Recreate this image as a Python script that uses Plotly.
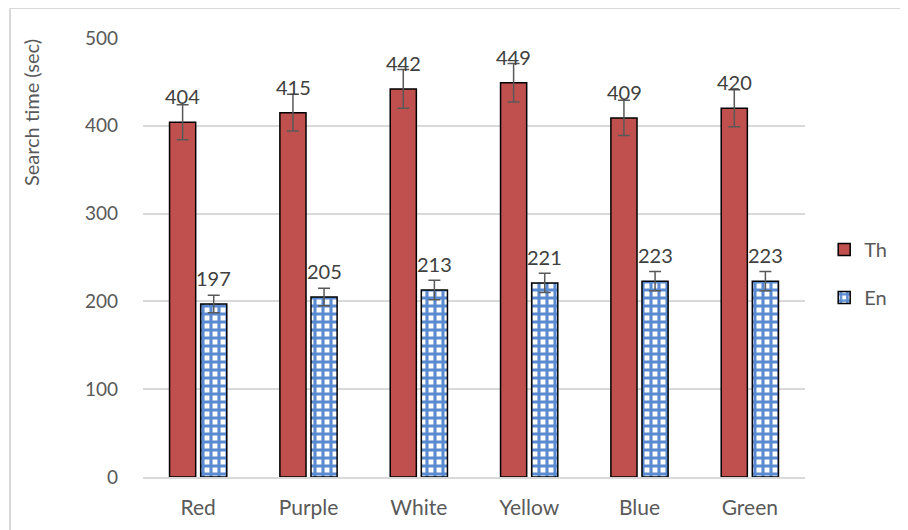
import plotly.graph_objects as go

categories = ["Red", "Purple", "White", "Yellow", "Blue", "Green"]
th_values = [404, 415, 442, 449, 409, 420]
en_values = [197, 205, 213, 221, 223, 223]
th_errors = [20, 21, 22, 22, 20, 21]
en_errors = [10, 10, 11, 11, 11, 11]
y_ticks = [0, 100, 200, 300, 400, 500]

FONT = "Lato"
TXT = "#404040"
TICK = "#595959"

fig = go.Figure()
fig.add_trace(go.Bar(
    name="Th", x=categories, y=th_values, legendgroup="th",
    marker=dict(color="#C0504D", line=dict(color="#000000", width=1.5)),
    error_y=dict(type="data", array=th_errors, color="#595959", thickness=1.5, width=6),
))
fig.add_trace(go.Bar(
    name="En", x=categories, y=en_values, legendgroup="en",
    marker=dict(color="#FFFFFF", line=dict(color="#000000", width=1.5),
                pattern=dict(shape="+", fgcolor="#5A8AD0", bgcolor="#FFFFFF",
                             size=8, solidity=0.62, fillmode="replace")),
    error_y=dict(type="data", array=en_errors, color="#595959", thickness=1.5, width=6),
))

for vals, shift in ((th_values, -15.5), (en_values, 15.5)):
    for c, v in zip(categories, vals):
        fig.add_annotation(x=c, y=v, text=str(v), showarrow=False, xshift=shift,
                           yshift=26, font=dict(family=FONT, size=20, color=TXT))

# y-axis title placed near the top, as in the reference
fig.add_annotation(text="Search time (sec)", xref="paper", yref="paper",
                   x=-0.17, y=0.83, textangle=-90, showarrow=False,
                   xanchor="center", yanchor="middle",
                   font=dict(family=FONT, size=20, color=TICK))

fig.add_shape(type="rect", xref="paper", yref="paper",
              x0=-0.2009, x1=1.2, y0=-0.2, y1=1.0683,
              line=dict(color="#D9D9D9", width=2), fillcolor="rgba(0,0,0,0)", layer="below")

fig.update_layout(
    width=900, height=522,
    margin=dict(l=135, r=103, t=30, b=53, autoexpand=False),
    paper_bgcolor="white", plot_bgcolor="white",
    barmode="group", bargap=0.436, bargroupgap=0.16,
    font=dict(family=FONT, color=TICK),
    showlegend=True,
    legend=dict(x=1.029, y=0.4636, xanchor="left", yanchor="middle",
                font=dict(family=FONT, size=20, color=TICK),
                tracegroupgap=19, itemwidth=30, bgcolor="rgba(0,0,0,0)"),
    xaxis=dict(tickfont=dict(family=FONT, size=21, color=TICK), ticklabelstandoff=11,
               showline=True, linecolor="#D9D9D9", linewidth=1.5, ticks=""),
    yaxis=dict(range=[0, 500], tickvals=y_ticks, showgrid=True, gridcolor="#D9D9D9",
               gridwidth=1.5, zeroline=False, showline=False,
               tickfont=dict(family=FONT, size=19, color=TICK), ticklabelstandoff=24),
)

fig.write_html("out.html")
